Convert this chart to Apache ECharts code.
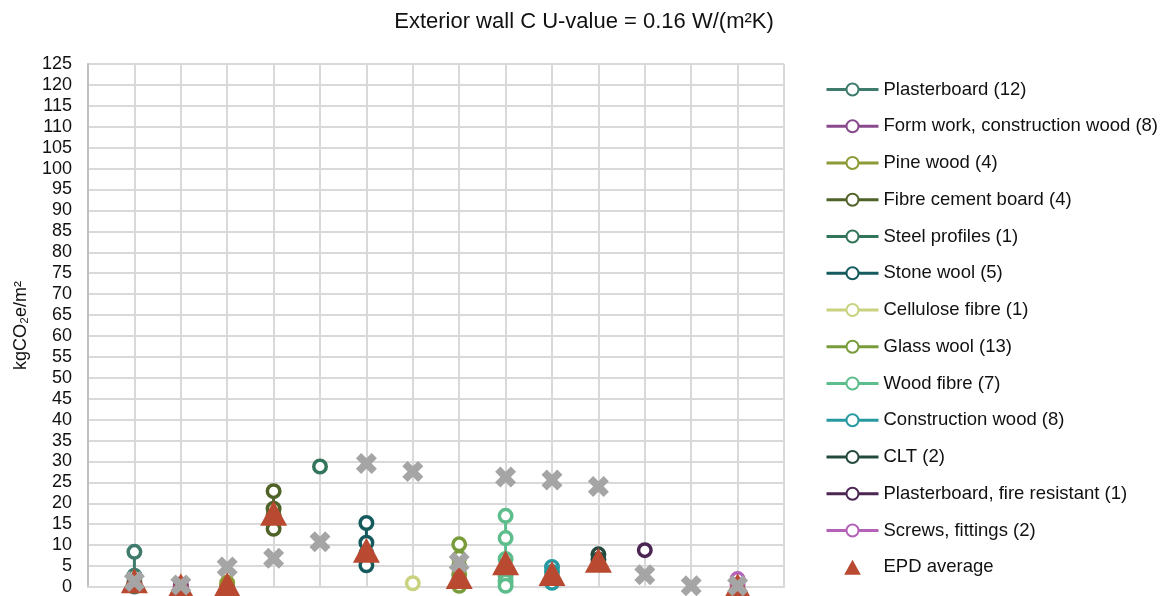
<!DOCTYPE html>
<html>
<head>
<meta charset="utf-8">
<script src="https://cdn.jsdelivr.net/npm/echarts@6/dist/echarts.min.js"></script>
<style>
html,body{margin:0;padding:0;background:#fff;}
#chart{width:1166px;height:596px;}
</style>
</head>
<body>
<div id="chart"></div>
<script>
// Materials (name, x position, values)
const materialNames = [
  "Plasterboard (12)",
  "Form work, construction wood (8)",
  "Pine wood (4)",
  "Fibre cement board (4)",
  "Steel profiles (1)",
  "Stone wool (5)",
  "Cellulose fibre (1)",
  "Glass wool (13)",
  "Wood fibre (7)",
  "Construction wood (8)",
  "CLT (2)",
  "Plasterboard, fire resistant (1)",
  "Screws, fittings (2)"
];
const materialX = [1, 2, 3, 4, 5, 6, 7, 8, 9, 10, 11, 12, 14];
const materialValues = [
  [8.4, 2.7, 1.2, 0.4, 0.1],
  [0.6, 0.2, 0],
  [1.0, 0.4, 0.1],
  [22.9, 18.7, 17.0, 13.9],
  [28.8],
  [15.3, 10.6, 8.0, 5.2],
  [0.9],
  [10.2, 7.0, 5.0, 3.0, 1.5, 0.3],
  [17.0, 11.7, 6.7, 4.5, 2.6, 1.3, 0.3],
  [4.8, 3.6, 2.2, 1.0],
  [7.8, 6.6],
  [8.8],
  [1.9, 0.5]
];
const materialColors = [
  "#3E7B6C", "#884A8C", "#8E9A35", "#4F6228", "#33755A", "#155B5E",
  "#C9D27E", "#789C3A", "#5DBD8C", "#2799A1", "#244A3F", "#4B2652", "#B462B8"
];
// EPD average
const epdX = [1, 2, 3, 4, 6, 8, 9, 10, 11, 14];
const epdValues = [1.5, 0.3, 0.6, 17.6, 8.8, 2.5, 5.8, 3.2, 6.4, 0.3];
// Grey cross markers
const crossX = [1, 2, 3, 4, 5, 6, 7, 8, 9, 10, 11, 12, 13, 14];
const crossValues = [1.3, 0.5, 4.8, 6.9, 10.8, 29.5, 27.6, 5.9, 26.3, 25.6, 24.0, 2.9, 0.3, 0.3];

const yTicks = {min: 0, max: 125, interval: 5};
const FONT = "Liberation Sans, Arial, sans-serif";
const crossPath = "path://M2.5,0 L5,2.5 L7.5,0 L10,2.5 L7.5,5 L10,7.5 L7.5,10 L5,7.5 L2.5,10 L0,7.5 L2.5,5 L0,2.5 Z";
const trianglePath = "path://M5,0 L10,9 L0,9 Z";

const series = materialNames.map((name, i) => ({
  name: name,
  type: "line",
  data: materialValues[i].map(v => [materialX[i], v]),
  symbol: "circle",
  symbolSize: 12.5,
  showAllSymbol: true,
  lineStyle: {color: materialColors[i], width: 3},
  itemStyle: {color: "#ffffff", borderColor: materialColors[i], borderWidth: 3.5},
  z: 2,
  animation: false
}));
series.push({
  name: "EPD average",
  type: "scatter",
  data: epdX.map((x, i) => [x, epdValues[i]]),
  symbol: "triangle",
  symbolSize: [27, 25],
  itemStyle: {color: "#B94A31", opacity: 1},
  z: 3,
  animation: false
});
series.push({
  name: "cross",
  type: "scatter",
  data: crossX.map((x, i) => [x, crossValues[i]]),
  symbol: crossPath,
  symbolSize: 21,
  itemStyle: {color: "#A5A5A5", opacity: 1},
  z: 4,
  animation: false
});

const legendData = materialNames.map(n => ({name: n}));
legendData.push({name: "EPD average", icon: trianglePath});

const chart = echarts.init(document.getElementById("chart"));
chart.setOption({
  animation: false,
  backgroundColor: "#fff",
  textStyle: {fontFamily: FONT},
  title: {
    text: "Exterior wall C U-value = 0.16 W/(m²K)",
    left: 579, top: 6, textAlign: "center",
    textStyle: {fontFamily: FONT, fontSize: 22, fontWeight: "normal", color: "#111"}
  },
  grid: {left: 88, top: 64, width: 696, height: 524, containLabel: false},
  legend: {
    orient: "vertical",
    left: 820, top: 75, height: 560,
    itemWidth: 52, itemHeight: 15, itemGap: 17.75,
    symbolKeepAspect: true,
    textStyle: {fontFamily: FONT, fontSize: 18.5, color: "#111"},
    lineStyle: {width: 3},
    data: legendData,
    selectedMode: false
  },
  xAxis: {
    type: "value", min: 0, max: 15, interval: 1,
    axisLabel: {show: false},
    axisTick: {show: false},
    axisLine: {show: true, lineStyle: {color: "#D9D9D9", width: 2}},
    splitLine: {show: true, lineStyle: {color: "#D9D9D9", width: 2}}
  },
  yAxis: {
    type: "value", min: yTicks.min, max: yTicks.max, interval: yTicks.interval,
    name: "kgCO₂e/m²",
    nameLocation: "middle", nameGap: 58, nameRotate: 90,
    nameTextStyle: {fontFamily: FONT, fontSize: 18, color: "#111"},
    axisLabel: {fontFamily: FONT, fontSize: 18, color: "#111", margin: 16},
    axisTick: {show: false},
    axisLine: {show: true, lineStyle: {color: "#BFBFBF", width: 2}},
    splitLine: {show: true, lineStyle: {color: "#D9D9D9", width: 2}}
  },
  series: series
});
</script>
</body>
</html>
